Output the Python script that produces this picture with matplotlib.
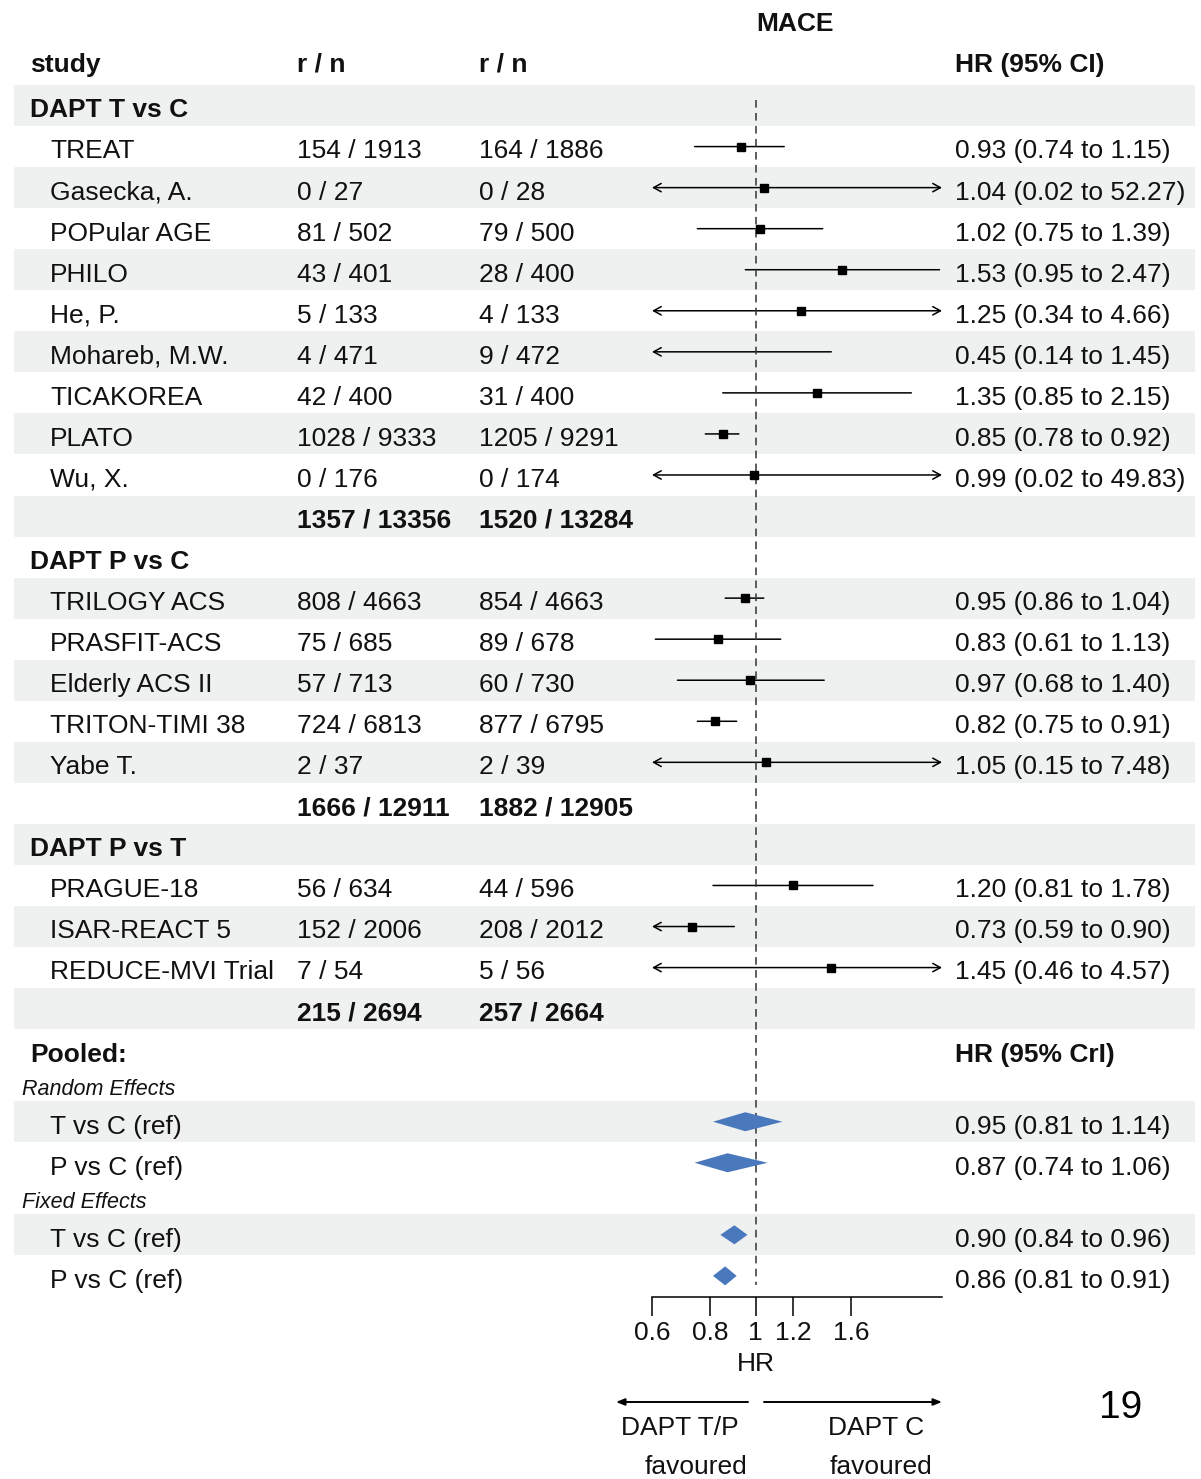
import numpy as np
import matplotlib.pyplot as plt
from matplotlib.patches import Polygon, Rectangle
from matplotlib.ticker import NullLocator

plt.rcParams['font.family'] = ['Liberation Sans', 'DejaVu Sans']

# ---------------- Dados ----------------
group_names = ['DAPT T vs C', 'DAPT P vs C', 'DAPT P vs T']
study_names = ['TREAT', 'Gasecka, A.', 'POPular AGE', 'PHILO', 'He, P.',
               'Mohareb, M.W.', 'TICAKOREA', 'PLATO', 'Wu, X.',
               'TRILOGY ACS', 'PRASFIT-ACS', 'Elderly ACS II', 'TRITON-TIMI 38',
               'Yabe T.',
               'PRAGUE-18', 'ISAR-REACT 5', 'REDUCE-MVI Trial']
study_group = [0] * 9 + [1] * 5 + [2] * 3
r_a = [154, 0, 81, 43, 5, 4, 42, 1028, 0, 808, 75, 57, 724, 2, 56, 152, 7]
n_a = [1913, 27, 502, 401, 133, 471, 400, 9333, 176, 4663, 685, 713, 6813, 37,
       634, 2006, 54]
r_b = [164, 0, 79, 28, 4, 9, 31, 1205, 0, 854, 89, 60, 877, 2, 44, 208, 5]
n_b = [1886, 28, 500, 400, 133, 472, 400, 9291, 174, 4663, 678, 730, 6795, 39,
       596, 2012, 56]
hr = [0.93, 1.04, 1.02, 1.53, 1.25, 0.45, 1.35, 0.85, 0.99,
      0.95, 0.83, 0.97, 0.82, 1.05, 1.20, 0.73, 1.45]
hr_lo = [0.74, 0.02, 0.75, 0.95, 0.34, 0.14, 0.85, 0.78, 0.02,
         0.86, 0.61, 0.68, 0.75, 0.15, 0.81, 0.59, 0.46]
hr_hi = [1.15, 52.27, 1.39, 2.47, 4.66, 1.45, 2.15, 0.92, 49.83,
         1.04, 1.13, 1.40, 0.91, 7.48, 1.78, 0.90, 4.57]

pooled_labels = ['T vs C (ref)', 'P vs C (ref)']
re_hr = [0.95, 0.87]
re_lo = [0.81, 0.74]
re_hi = [1.14, 1.06]
fe_hr = [0.90, 0.86]
fe_lo = [0.84, 0.81]
fe_hi = [0.96, 0.91]

x_ticks = [0.6, 0.8, 1, 1.2, 1.6]
x_tick_labels = ['0.6', '0.8', '1', '1.2', '1.6']
x_lim = (0.6, 2.5)

# ---------------- Layout (pixels) ----------------
W, H = 1201, 1479
ROW = 41.05
LAB = 31
TOP = 85
FS = 19
TXT = '#111111'
BAND = '#eff1f1'
BLUE = '#4a78bd'
X_STUDY, X_NAME, X_A, X_B, X_HR = 30, 50, 297, 479, 955

fig = plt.figure(figsize=(W / 100, H / 100), dpi=100)
bg = fig.add_axes([0, 0, 1, 1])
bg.set_xlim(0, W)
bg.set_ylim(H, 0)
bg.axis('off')

fa = fig.add_axes([652 / W, 0, 290 / W, 1])
fa.set_xscale('log')
fa.set_xlim(*x_lim)
fa.set_ylim(H, 0)
fa.patch.set_alpha(0)
for s in ['top', 'left', 'right']:
    fa.spines[s].set_visible(False)
fa.yaxis.set_visible(False)

state = {'y': TOP, 'k': 0}


def add_row(h=ROW, counted=True):
    c = state['y'] + h / 2
    shaded = counted and state['k'] % 2 == 0
    if counted:
        state['k'] += 1
    if shaded:
        bg.add_patch(Rectangle((14, state['y']), 1181, h, color=BAND, lw=0, zorder=0))
    state['y'] += h
    return c


def txt(x, c, s, **kw):
    kw.setdefault('fontsize', FS)
    kw.setdefault('color', TXT)
    bg.text(x, c + 2 + 0.52 * kw['fontsize'], s, va='baseline', **kw)


def ci_line(c, est, lo, hi):
    lo_c, hi_c = max(lo, x_lim[0]), min(hi, x_lim[1])
    left, right = lo < x_lim[0], hi > x_lim[1]
    style = {(True, True): '<->', (True, False): '<-',
             (False, True): '->', (False, False): '-'}[(left, right)]
    fa.annotate('', xy=(hi_c, c), xytext=(lo_c, c),
                arrowprops=dict(arrowstyle=style + (',head_length=0.55,head_width=0.3' if style != '-' else ''),
                                lw=1.1, color='black', shrinkA=0, shrinkB=0,
                                mutation_scale=10))
    if x_lim[0] <= est <= x_lim[1]:
        fa.plot([est], [c], 's', color='black', ms=6, zorder=4)


def diamond(c, est, lo, hi, h=9.5):
    fa.add_patch(Polygon([(lo, c), (est, c - h), (hi, c), (est, c + h)],
                         closed=True, color=BLUE, lw=0, zorder=4))


# header
txt(795, 19, 'MACE', fontweight='bold', ha='center', fontsize=19)
txt(X_STUDY, 60, 'study', fontweight='bold')
txt(X_A, 60, 'r / n', fontweight='bold')
txt(X_B, 60, 'r / n', fontweight='bold')
txt(X_HR, 60, 'HR (95% CI)', fontweight='bold')

for g, gname in enumerate(group_names):
    c = add_row()
    txt(X_STUDY, c, gname, fontweight='bold')
    idx = [i for i, sg in enumerate(study_group) if sg == g]
    for i in idx:
        c = add_row()
        txt(X_NAME, c, study_names[i])
        txt(X_A, c, f'{r_a[i]} / {n_a[i]}')
        txt(X_B, c, f'{r_b[i]} / {n_b[i]}')
        txt(X_HR, c, f'{hr[i]:.2f} ({hr_lo[i]:.2f} to {hr_hi[i]:.2f})')
        ci_line(c, hr[i], hr_lo[i], hr_hi[i])
    c = add_row()
    txt(X_A, c, f'{sum(r_a[i] for i in idx)} / {sum(n_a[i] for i in idx)}', fontweight='bold')
    txt(X_B, c, f'{sum(r_b[i] for i in idx)} / {sum(n_b[i] for i in idx)}', fontweight='bold')

c = add_row()
txt(X_STUDY, c, 'Pooled:', fontweight='bold')
txt(X_HR, c, 'HR (95% CrI)', fontweight='bold')

for title, est_, lo_, hi_ in [('Random Effects', re_hr, re_lo, re_hi),
                              ('Fixed Effects', fe_hr, fe_lo, fe_hi)]:
    c = add_row(LAB, counted=False)
    txt(22, c - 1, title, fontstyle='italic', fontsize=15.5)
    for j, lab in enumerate(pooled_labels):
        c = add_row()
        txt(X_NAME, c, lab)
        txt(X_HR, c, f'{est_[j]:.2f} ({lo_[j]:.2f} to {hi_[j]:.2f})')
        diamond(c, est_[j], lo_[j], hi_[j])

axis_y = state['y'] + 1

# reference line
fa.vlines(1, TOP + 15, axis_y - 12, colors='#333333', linestyles=(0, (5, 3.5)),
          lw=1.1, zorder=3)

# x axis
fa.spines['bottom'].set_position(('data', axis_y))
fa.spines['bottom'].set_linewidth(1.1)
fa.set_xticks(x_ticks)
fa.set_xticklabels(x_tick_labels)
fa.xaxis.set_minor_locator(NullLocator())
fa.tick_params(axis='x', direction='out', length=14, width=1.1, pad=3,
               labelsize=FS, labelcolor=TXT)
fa.text(1, axis_y + 67, 'HR', ha='center', va='center', fontsize=FS, color=TXT)

# favoured arrows
arr = dict(arrowstyle='-|>,head_length=0.5,head_width=0.2', lw=1.4,
           color='black', shrinkA=0, shrinkB=0, mutation_scale=10)
bg.annotate('', xy=(616, 1402), xytext=(748, 1402), arrowprops=arr)
bg.annotate('', xy=(942, 1402), xytext=(764, 1402), arrowprops=arr)
bg.text(680, 1428, 'DAPT T/P', ha='center', va='center', fontsize=FS, color=TXT)
bg.text(696, 1467, 'favoured', ha='center', va='center', fontsize=FS, color=TXT)
bg.text(876, 1428, 'DAPT C', ha='center', va='center', fontsize=FS, color=TXT)
bg.text(881, 1467, 'favoured', ha='center', va='center', fontsize=FS, color=TXT)
bg.text(1121, 1408, '19', ha='center', va='center', fontsize=28, color='black')

fig.savefig('out.png', dpi=100)
